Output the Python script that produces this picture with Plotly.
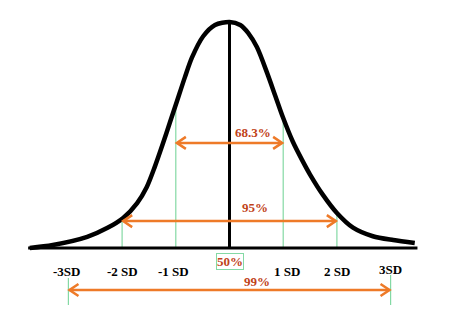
import plotly.graph_objects as go

# ---- data ----
# bell curve outline (x in SD units, height relative to peak)
curve_x = [-3.72, -3.29, -2.65, -2.28, -1.98, -1.72, -1.54, -1.39, -1.24, -1.11, -0.98, -0.83,
           -0.70, -0.49, -0.27, 0.0, 0.20, 0.35, 0.51, 0.70, 0.85, 1.00, 1.18, 1.35, 1.50,
           1.74, 2.00, 2.30, 2.67, 3.05, 3.45]
curve_y = [0.00, 0.013, 0.049, 0.088, 0.133, 0.199, 0.270, 0.360, 0.462, 0.555, 0.648, 0.756,
           0.842, 0.937, 0.987, 1.00, 0.987, 0.951, 0.889, 0.775, 0.675, 0.575, 0.470, 0.390,
           0.325, 0.235, 0.155, 0.090, 0.052, 0.035, 0.022]

sd_positions = [-3, -2, -1, 1, 2, 3]
sd_labels = ["-3SD", "-2 SD", "-1 SD", "1 SD", "2 SD", "3SD"]
# heights where the green guide lines meet the curve at ±1, ±2 SD
guide_top = {-2: 0.133, -1: 0.63, 1: 0.575, 2: 0.155}

interval_sd = [1, 2, 3]
interval_pct = ["68.3%", "95%", "99%"]
center_label = "50%"

# ---- styling ----
W, H = 452, 329
PX_X = 53.7      # pixels per SD
PX_Y = 226.0     # pixels per unit height
X0, Y0 = 229.5, 248.0
xr = [-X0 / PX_X, (W - X0) / PX_X]
yr = [(Y0 - H) / PX_Y, Y0 / PX_Y]

ORANGE = "#EE7A28"
PCT_COLOR = "#BF4219"
GREEN = "#84D9A4"
FONT = "Liberation Serif, Times New Roman, serif"

fig = go.Figure()

# green guide lines
for s in sd_positions:
    if abs(s) < 3:
        fig.add_trace(go.Scatter(x=[s, s], y=[0, guide_top[s]], mode="lines",
                                 line=dict(color=GREEN, width=1.2), hoverinfo="skip"))
    else:
        top = -0.12 if s > 0 else -0.133
        fig.add_trace(go.Scatter(x=[s, s], y=[top, -0.252], mode="lines",
                                 line=dict(color=GREEN, width=1.2), hoverinfo="skip"))

# baseline
fig.add_trace(go.Scatter(x=[curve_x[0] - 0.03, curve_x[-1] + 0.05], y=[0, 0], mode="lines",
                         line=dict(color="black", width=3), hoverinfo="skip"))
# center line
fig.add_trace(go.Scatter(x=[0, 0], y=[0, 1.0], mode="lines",
                         line=dict(color="black", width=3), hoverinfo="skip"))
# bell curve
fig.add_trace(go.Scatter(x=curve_x, y=curve_y, mode="lines",
                         line=dict(color="black", width=4.5, shape="spline", smoothing=0.8),
                         hoverinfo="skip"))

# double arrows
arrow_h = [0.465, 0.119, -0.186]
text_pos = [(0.44, 0.51), (0.475, 0.181), (0.512, -0.146)]
dx = 9 / PX_X
dy = 6 / PX_Y
for s, h, pct, (tx, ty) in zip(interval_sd, arrow_h, interval_pct, text_pos):
    left, right = -s + 0.02, s - 0.02
    fig.add_trace(go.Scatter(x=[left, right], y=[h, h], mode="lines",
                             line=dict(color=ORANGE, width=2.5), hoverinfo="skip"))
    for tip, sign in ((left, 1), (right, -1)):
        fig.add_trace(go.Scatter(x=[tip + sign * dx, tip, tip + sign * dx],
                                 y=[h + dy, h, h - dy], mode="lines",
                                 line=dict(color=ORANGE, width=2.5), hoverinfo="skip"))
    fig.add_annotation(x=tx, y=ty, text="<b>%s</b>" % pct, showarrow=False,
                       font=dict(family=FONT, size=13, color=PCT_COLOR))

# SD labels
for s, lab in zip(sd_positions, sd_labels):
    off = {-3: -0.04, -2: 0.0, -1: -0.04, 1: 0.07, 2: 0.0, 3: -0.01}[s]
    fig.add_annotation(x=s + off, y=-0.102 if s != 3 else -0.095,
                       text="<b>%s</b>" % lab, showarrow=False,
                       font=dict(family=FONT, size=13, color="black"))

# 50% boxed label
fig.add_annotation(x=0, y=-0.058, text="<b>%s</b>" % center_label, showarrow=False,
                   font=dict(family=FONT, size=13, color=PCT_COLOR),
                   bordercolor=GREEN, borderwidth=1, borderpad=0, bgcolor="white")

fig.update_layout(width=W, height=H, margin=dict(l=0, r=0, t=0, b=0),
                  paper_bgcolor="white", plot_bgcolor="white", showlegend=False,
                  xaxis=dict(range=xr, visible=False, fixedrange=True),
                  yaxis=dict(range=yr, visible=False, fixedrange=True))

fig.write_html("out.html")
